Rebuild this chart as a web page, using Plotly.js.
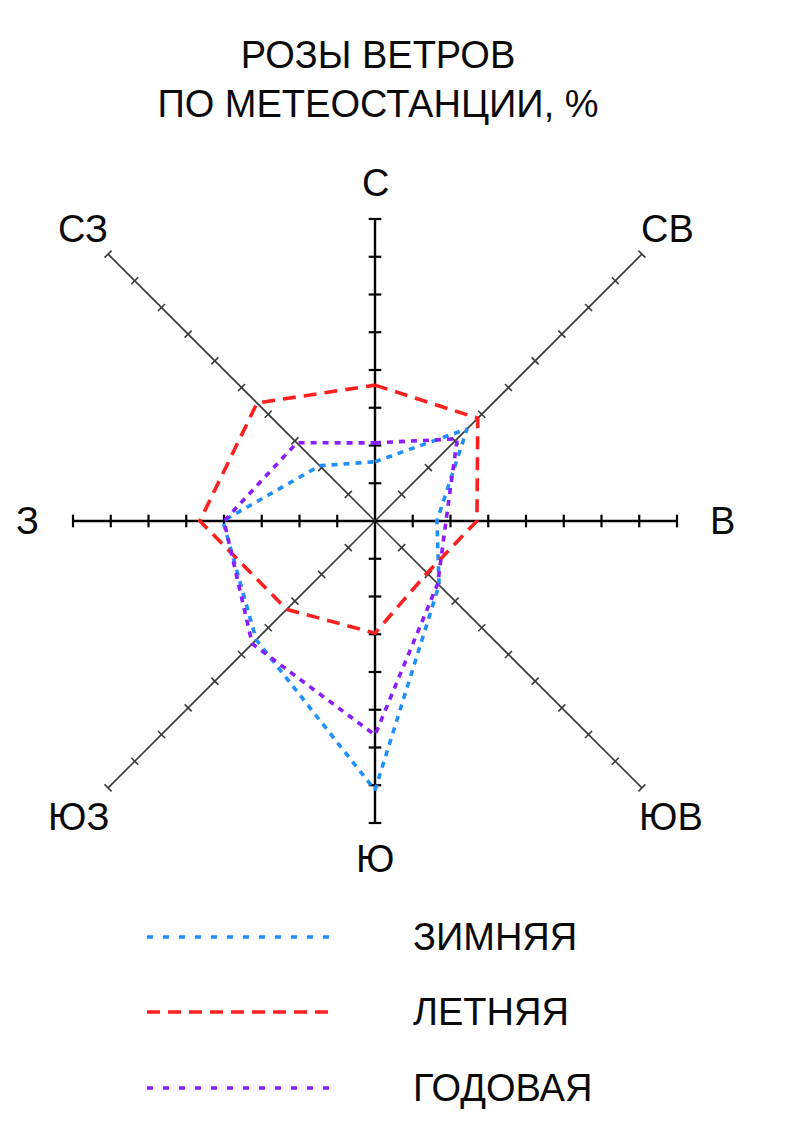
<!DOCTYPE html>
<html>
<head>
<meta charset="utf-8">
<script src="https://cdn.plot.ly/plotly-3.0.1.min.js"></script>
<style>html,body{margin:0;padding:0;background:#fff;}#chart{width:794px;height:1141px;}</style>
</head>
<body>
<div id="chart"></div>
<script>
// Directions (clockwise from north)
const directions = ['С', 'СВ', 'В', 'ЮВ', 'Ю', 'ЮЗ', 'З', 'СЗ'];
// Wind frequencies, in axis tick units
const winter = [1.57, 3.45, 1.64, 2.4, 7.13, 4.45, 4.03, 2.07];
const summer = [3.6, 3.85, 2.7, 1.95, 2.97, 3.31, 4.64, 4.42];
const annual = [2.07, 3.08, 1.88, 2.35, 5.67, 4.6, 4.0, 2.93];
const seriesNames = ['ЗИМНЯЯ', 'ЛЕТНЯЯ', 'ГОДОВАЯ'];
const titleText = 'РОЗЫ ВЕТРОВ<br>ПО МЕТЕОСТАНЦИИ, %';
// axis lengths (tick count) for cardinal and diagonal axes
const cardinalMax = 8;
const diagonalMax = 10;

const W = 794, H = 1141;
const UNIT = 37.75;      // px per tick unit
const CX = 375, CY = 521; // centre in px (from top-left)
const FONT = '"Liberation Sans", Arial, Helvetica, sans-serif';
const FS = 38;

function ang(i) { return i * Math.PI / 4; }
function px(r, i) { return r * Math.sin(ang(i)); }
function py(r, i) { return r * Math.cos(ang(i)); }

const traces = [];

// axes
directions.forEach((d, i) => {
  const diag = i % 2 === 1;
  const max = diag ? diagonalMax : cardinalMax;
  traces.push({
    type: 'scatter', mode: 'lines', hoverinfo: 'skip', showlegend: false,
    x: [0, px(max, i)], y: [0, py(max, i)],
    line: { color: diag ? '#3a3a3a' : '#000', width: diag ? 1.6 : 2.4 }
  });
  const tr = [];
  for (let k = 1; k <= max; k++) tr.push(k);
  let sym;
  if (i === 0 || i === 4) sym = 'line-ew';
  else if (i === 2 || i === 6) sym = 'line-ns';
  else if (i === 1 || i === 5) sym = 'line-nw';
  else sym = 'line-ne';
  traces.push({
    type: 'scatter', mode: 'markers', hoverinfo: 'skip', showlegend: false,
    x: tr.map(r => px(r, i)), y: tr.map(r => py(r, i)),
    marker: { symbol: sym, size: diag ? 7 : 9, line: { color: diag ? '#3a3a3a' : '#000', width: diag ? 1.6 : 2.2 } }
  });
});

const styles = [
  { color: '#1E8FFF', dash: '6px,6px' },
  { color: '#FF2020', dash: '13px,8px' },
  { color: '#8A1CFF', dash: '6px,6px' }
];
[winter, summer, annual].forEach((vals, s) => {
  const xs = vals.map((r, i) => px(r, i));
  const ys = vals.map((r, i) => py(r, i));
  xs.push(xs[0]); ys.push(ys[0]);
  traces.push({
    type: 'scatter', mode: 'lines', name: seriesNames[s], showlegend: false,
    x: xs, y: ys,
    line: { color: styles[s].color, width: 3.6, dash: styles[s].dash }
  });
});

// direction labels
const annotations = directions.map((d, i) => {
  let r;
  if (i % 2 === 1) r = (i === 3 || i === 5) ? 11.1 : 10.95;
  else if (i === 0 || i === 4) r = 8.95;
  else r = 9.2;
  return {
    x: px(r, i), y: py(r, i), xref: 'x', yref: 'y', text: d, showarrow: false,
    xanchor: 'center', yanchor: 'middle', font: { family: FONT, size: FS, color: '#0a0a0a' }
  };
});

// legend (manual)
const legendRows = [937, 1012, 1088];
const shapes = [];
seriesNames.forEach((n, s) => {
  const yy = 1 - legendRows[s] / H;
  shapes.push({
    type: 'line', xref: 'paper', yref: 'paper', x0: 147 / W, x1: 333 / W, y0: yy, y1: yy,
    line: { color: styles[s].color, width: 3.6, dash: s === 1 ? '13px,8px' : '6px,10px' }
  });
  annotations.push({
    xref: 'paper', yref: 'paper', x: 411 / W, y: yy, text: n, showarrow: false,
    xanchor: 'left', yanchor: 'middle', font: { family: FONT, size: FS, color: '#0a0a0a' }
  });
});

const layout = {
  width: W, height: H,
  margin: { l: 0, r: 0, t: 0, b: 0 },
  paper_bgcolor: '#fff', plot_bgcolor: '#fff',
  showlegend: false,
  title: {
    text: titleText, x: 378 / W, xanchor: 'center', y: 1 - 68 / H, yanchor: 'middle',
    font: { family: FONT, size: FS, color: '#0a0a0a' }
  },
  xaxis: { range: [-CX / UNIT, (W - CX) / UNIT], visible: false, fixedrange: true },
  yaxis: { range: [-(H - CY) / UNIT, CY / UNIT], visible: false, fixedrange: true },
  annotations: annotations,
  shapes: shapes
};

Plotly.newPlot('chart', traces, layout, { staticPlot: true });
</script>
</body>
</html>
